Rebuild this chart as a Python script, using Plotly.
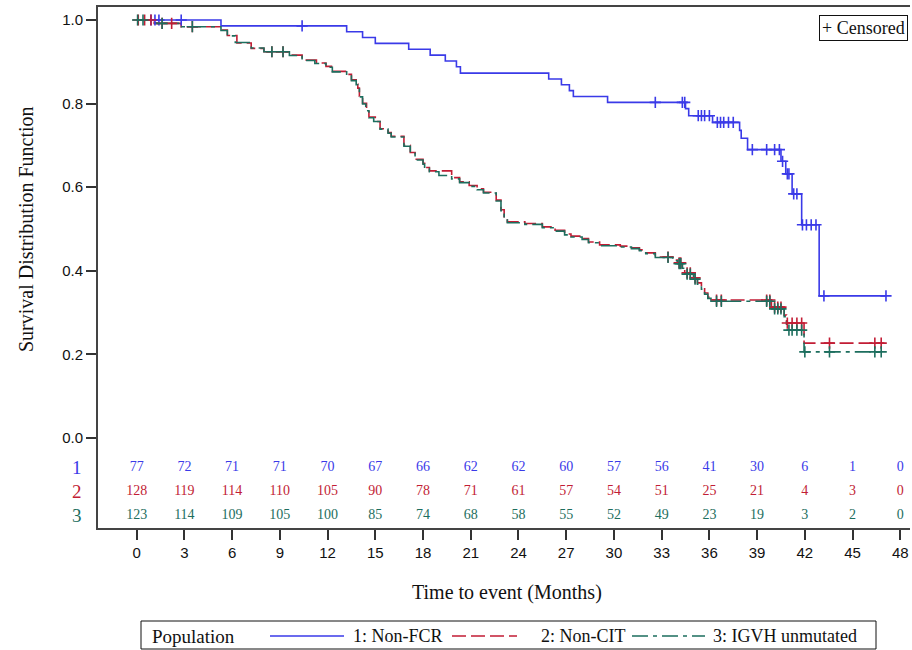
import plotly.graph_objects as go

# ---------------- data ----------------
group_names = ["1: Non-FCR", "2: Non-CIT", "3: IGVH unmutated"]
row_labels = ["1", "2", "3"]

# Kaplan-Meier step points (time of drop, survival after drop)
g1_times = [0, 5.3, 13.2, 14.2, 15.0, 17.1, 18.45, 19.4, 20.1, 20.35, 25.9, 26.7, 27.2,
            27.45, 29.6, 34.5, 34.7, 36.2, 37.9, 38.0, 38.4, 40.5, 40.8, 41.2, 41.8, 42.9]
g1_surv = [1.0, 0.986, 0.972, 0.958, 0.944, 0.930, 0.916, 0.902, 0.888, 0.873, 0.859, 0.845,
           0.831, 0.817, 0.803, 0.788, 0.771, 0.755, 0.736, 0.717, 0.690, 0.662, 0.632,
           0.584, 0.510, 0.340]
g1_end = 47.1
g1_cens = [0.9, 1.15, 1.4, 2.8, 10.4, 32.6, 34.3, 34.45, 35.3, 35.5, 35.7, 36.0, 36.5,
           36.7, 36.9, 37.2, 37.5, 38.7, 39.6, 40.1, 40.4, 40.6, 40.9, 41.0, 41.3, 41.5,
           41.85, 42.1, 42.4, 42.7, 43.2, 47.1]

g2_times = [0, 1.1, 2.8, 5.3, 5.7, 6.3, 7.2, 8.0, 9.7, 10.4, 11.3, 11.9, 12.3, 13.2, 13.5,
            13.8, 13.9, 14.0, 14.2, 14.45, 14.6, 15.0, 15.3, 15.8, 16.0, 16.8, 17.2, 17.5,
            18.0, 18.1, 18.4, 19.8, 20.3, 20.9, 21.4, 21.8, 22.6, 22.9, 23.1, 23.3, 24.4,
            25.5, 26.3, 26.9, 27.3, 28.0, 28.4, 29.1, 30.4, 31.1, 31.6, 32.0, 32.6, 33.7,
            34.0, 34.3, 34.45, 35.0, 35.25, 35.5, 35.7, 35.9, 36.1, 39.9, 40.7, 40.85, 41.95]
g2_surv = [1.0, 0.992, 0.984, 0.976, 0.963, 0.945, 0.932, 0.924, 0.916, 0.904, 0.897, 0.889,
           0.877, 0.870, 0.857, 0.847, 0.837, 0.818, 0.801, 0.785, 0.768, 0.757, 0.740,
           0.731, 0.722, 0.700, 0.683, 0.667, 0.657, 0.647, 0.639, 0.623, 0.613, 0.604,
           0.596, 0.588, 0.569, 0.546, 0.527, 0.517, 0.513, 0.505, 0.497, 0.488, 0.483,
           0.477, 0.469, 0.462, 0.459, 0.455, 0.450, 0.443, 0.433, 0.426, 0.419, 0.409,
           0.395, 0.383, 0.371, 0.359, 0.347, 0.337, 0.330, 0.313, 0.294, 0.275, 0.227]
g2_end = 47.0
g2_cens = [0.1, 0.5, 0.9, 1.6, 2.2, 3.5, 8.5, 9.2, 33.4, 34.1, 34.2, 34.6, 34.8, 35.1,
           36.45, 36.75, 39.6, 39.8, 40.1, 40.3, 40.5, 40.9, 41.2, 41.5, 41.8, 43.55,
           46.4, 46.8]

g3_times = [0, 1.2, 2.8, 5.3, 5.7, 6.2, 7.2, 8.0, 9.6, 10.4, 11.2, 11.9, 12.3, 13.2, 13.5,
            13.8, 13.9, 14.0, 14.2, 14.4, 14.6, 14.9, 15.3, 15.8, 16.0, 16.8, 17.2, 17.5,
            18.0, 18.1, 18.4, 19.0, 19.8, 20.3, 20.9, 21.4, 21.8, 22.6, 22.9, 23.1, 23.3,
            24.4, 25.5, 26.3, 26.9, 27.3, 28.0, 28.4, 29.1, 30.4, 31.1, 31.6, 32.0, 32.6,
            33.7, 34.0, 34.3, 34.45, 35.0, 35.25, 35.5, 35.7, 35.9, 36.1, 39.9, 40.7, 40.85,
            41.95]
g3_surv = [1.0, 0.992, 0.984, 0.975, 0.962, 0.946, 0.933, 0.924, 0.915, 0.903, 0.896, 0.887,
           0.876, 0.868, 0.855, 0.845, 0.835, 0.816, 0.799, 0.783, 0.766, 0.757, 0.739,
           0.729, 0.720, 0.698, 0.681, 0.665, 0.655, 0.645, 0.637, 0.628, 0.620, 0.611,
           0.602, 0.594, 0.586, 0.567, 0.544, 0.525, 0.515, 0.511, 0.503, 0.495, 0.486,
           0.481, 0.475, 0.467, 0.460, 0.457, 0.453, 0.448, 0.441, 0.432, 0.424, 0.417,
           0.406, 0.392, 0.380, 0.368, 0.356, 0.344, 0.334, 0.327, 0.309, 0.290, 0.258,
           0.206]
g3_end = 47.0
g3_cens = [0.06, 0.4, 1.6, 3.5, 8.5, 9.2, 33.4, 34.1, 34.2, 34.6, 34.8, 35.1, 36.45,
           36.75, 39.6, 39.8, 40.1, 40.3, 40.5, 41.0, 41.2, 41.5, 41.8, 42.0, 43.55,
           46.4, 46.8]

# number at risk table
risk_times = list(range(0, 49, 3))
risk_1 = [77, 72, 71, 71, 70, 67, 66, 62, 62, 60, 57, 56, 41, 30, 6, 1, 0]
risk_2 = [128, 119, 114, 110, 105, 90, 78, 71, 61, 57, 54, 51, 25, 21, 4, 3, 0]
risk_3 = [123, 114, 109, 105, 100, 85, 74, 68, 58, 55, 52, 49, 23, 19, 3, 2, 0]

y_ticks = [0.0, 0.2, 0.4, 0.6, 0.8, 1.0]

# ---------------- styles ----------------
colors = ["#3a3ae8", "#c21d35", "#1d6e5e"]
dashes = ["solid", "14px,5px", "16px,5px,4px,5px"]
SERIF = "Liberation Serif, Times New Roman, serif"
SANS = "Liberation Sans, Arial, sans-serif"

# plot area in pixels
W, H = 912, 650
L, R, T, B = 98, 910, 7, 528
Y_TOP = 1.0311
Y_BOT = -0.2153
row_y = [-0.070, -0.128, -0.186]


def px_x(p):
    return (p - L) / (R - L)


def px_y(p):
    return (B - p) / (B - T)


def surv_at(t, times, surv):
    v = surv[0]
    for ti, si in zip(times, surv):
        if ti <= t:
            v = si
    return v


fig = go.Figure()

groups = [
    (g1_times, g1_surv, g1_end, g1_cens),
    (g2_times, g2_surv, g2_end, g2_cens),
    (g3_times, g3_surv, g3_end, g3_cens),
]

for i, (tt, ss, te, cc) in enumerate(groups):
    assert len(tt) == len(ss)
    fig.add_trace(go.Scatter(
        x=tt + [te], y=ss + [ss[-1]], mode="lines", line_shape="hv",
        line=dict(color=colors[i], width=1.6, dash=dashes[i]),
        name=group_names[i], showlegend=False, hoverinfo="skip"))

for i, (tt, ss, te, cc) in enumerate(groups):
    fig.add_trace(go.Scatter(
        x=cc, y=[surv_at(c, tt, ss) for c in cc], mode="markers",
        marker=dict(symbol="cross-thin", size=8,
                    line=dict(color=colors[i], width=1.6)),
        name=group_names[i] + " censored", showlegend=False, hoverinfo="skip"))

# number at risk
for i, rk in enumerate([risk_1, risk_2, risk_3]):
    fig.add_trace(go.Scatter(
        x=risk_times, y=[row_y[i]] * len(risk_times), mode="text",
        text=[str(v) for v in rk], textposition="middle center",
        textfont=dict(family=SERIF, size=14, color=colors[i]),
        showlegend=False, hoverinfo="skip"))

annotations = []
for i, lab in enumerate(row_labels):
    annotations.append(dict(
        x=px_x(77), y=row_y[i], xref="paper", yref="y", text=lab, showarrow=False,
        xanchor="center", yanchor="middle",
        font=dict(family=SERIF, size=19, color=colors[i])))

annotations.append(dict(
    x=px_x(26), y=0.5, xref="paper", yref="y", text="Survival Distribution Function",
    textangle=-90, showarrow=False, xanchor="center", yanchor="middle",
    font=dict(family=SERIF, size=20, color="#111")))
annotations.append(dict(
    x=px_x(507), y=px_y(592), xref="paper", yref="paper", text="Time to event (Months)",
    showarrow=False, xanchor="center", yanchor="middle",
    font=dict(family=SERIF, size=20, color="#111")))
annotations.append(dict(
    x=px_x(908), y=px_y(15), xref="paper", yref="paper", text="+ Censored",
    showarrow=False, xanchor="right", yanchor="top", bgcolor="white",
    bordercolor="#111", borderwidth=1, borderpad=2,
    font=dict(family=SERIF, size=18, color="#111")))

# bottom legend (drawn)
leg_y = px_y(636)
annotations.append(dict(
    x=px_x(150), y=leg_y, xref="paper", yref="paper", text="Population",
    showarrow=False, xanchor="left", yanchor="middle",
    font=dict(family=SERIF, size=19, color="#111")))
leg_lines = [(270, 344), (452, 517), (632, 705)]
leg_text_x = [351, 539, 711]
shapes = [dict(type="rect", xref="paper", yref="paper",
               x0=px_x(141), x1=px_x(876), y0=px_y(649), y1=px_y(621),
               line=dict(color="#111", width=1), fillcolor="white", layer="below")]
for i in range(3):
    shapes.append(dict(type="line", xref="paper", yref="paper",
                       x0=px_x(leg_lines[i][0]), x1=px_x(leg_lines[i][1]),
                       y0=leg_y, y1=leg_y,
                       line=dict(color=colors[i], width=1.6, dash=dashes[i])))
    annotations.append(dict(
        x=px_x(leg_text_x[i]), y=leg_y, xref="paper", yref="paper", text=group_names[i],
        showarrow=False, xanchor="left", yanchor="middle",
        font=dict(family=SERIF, size=18, color="#111")))

fig.update_layout(
    width=W, height=H,
    margin=dict(l=L, r=W - R, t=T, b=H - B, pad=0),
    paper_bgcolor="white", plot_bgcolor="white",
    annotations=annotations, shapes=shapes, showlegend=False,
    xaxis=dict(range=[-2.43, 48.61], tickvals=risk_times, ticks="outside", ticklen=10,
               tickwidth=1.5, tickcolor="#333", showline=True, linecolor="#444",
               linewidth=2, mirror=True, showgrid=False, zeroline=False,
               tickfont=dict(family=SANS, size=15, color="#111")),
    yaxis=dict(range=[Y_BOT, Y_TOP], tickvals=y_ticks, ticktext=[f"{v:.1f}" for v in y_ticks],
               ticks="outside", ticklen=10, tickwidth=1.5, tickcolor="#333",
               showline=True, linecolor="#444", linewidth=2, showgrid=False,
               zeroline=False, tickfont=dict(family=SANS, size=15, color="#111")),
)

fig.write_html("out.html")
